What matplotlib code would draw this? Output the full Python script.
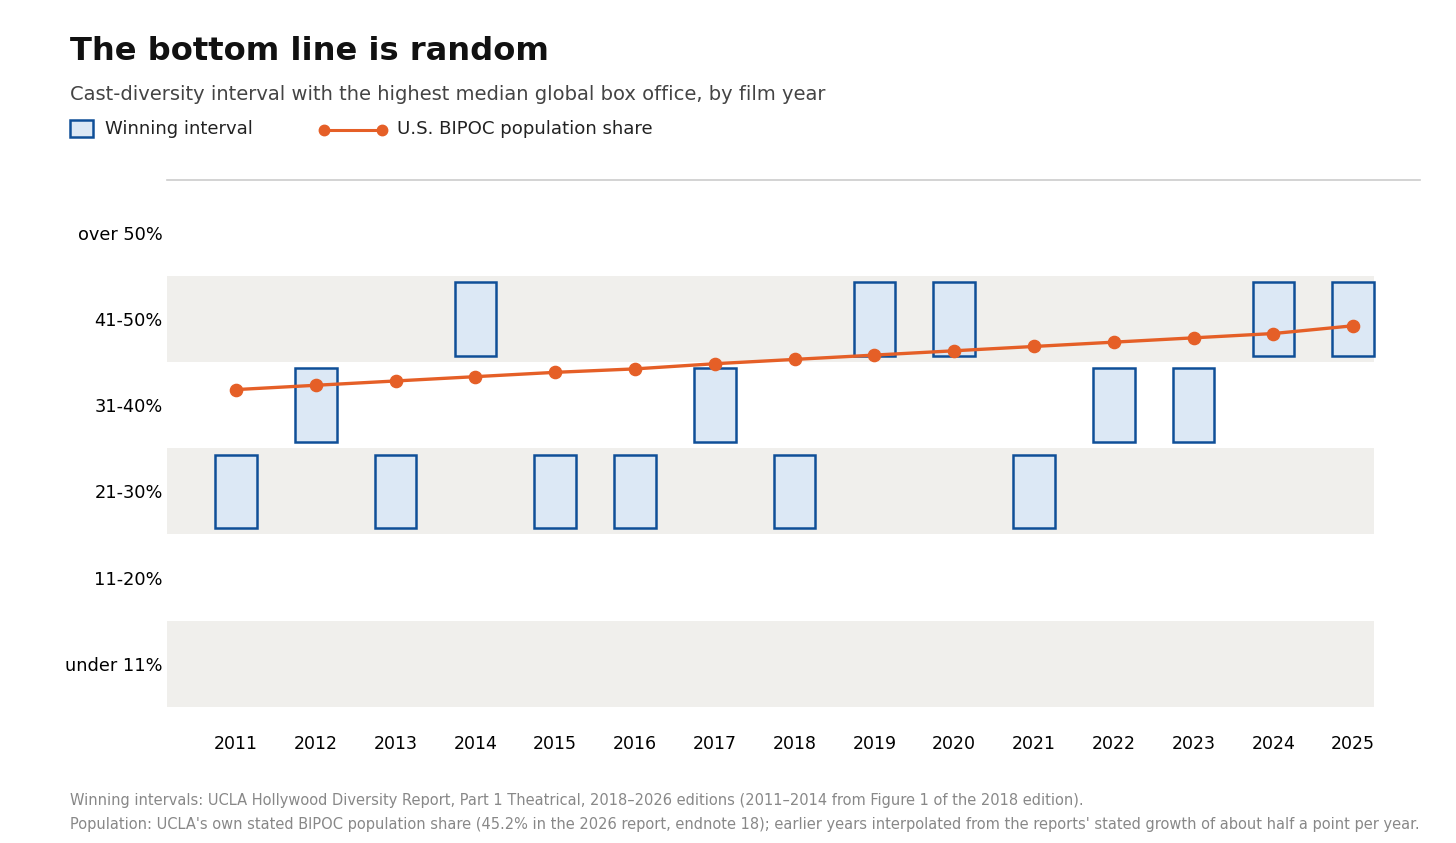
import matplotlib
matplotlib.use("Agg")
import matplotlib.pyplot as plt
from matplotlib.patches import Rectangle
from matplotlib.lines import Line2D

plt.rcParams["font.family"] = ["DejaVu Sans"]

# ---- data ----
years = [2011, 2012, 2013, 2014, 2015, 2016, 2017, 2018, 2019, 2020, 2021, 2022, 2023, 2024, 2025]
categories = ["under 11%", "11-20%", "21-30%", "31-40%", "41-50%", "over 50%"]
winning_interval = ["21-30%", "31-40%", "21-30%", "41-50%", "21-30%", "21-30%", "31-40%",
                    "21-30%", "41-50%", "41-50%", "21-30%", "31-40%", "31-40%", "41-50%", "41-50%"]
bipoc_share = [37.8, 38.3, 38.8, 39.3, 39.8, 40.2, 40.8, 41.3, 41.8, 42.3, 42.8, 43.3, 43.8, 44.3, 45.2]
shaded_categories = ["under 11%", "21-30%", "41-50%"]

# category k covers [10k+1, 10k+11) percent, centred on row k
def share_to_row(v):
    return (v - 6.0) / 10.0

BOX_FILL = "#dce8f5"
BOX_EDGE = "#0f4f98"
ORANGE = "#e55f27"
BAND = "#f0efec"

W, H = 1456, 843
fig = plt.figure(figsize=(W / 100, H / 100), dpi=100)
fig.patch.set_facecolor("white")

ax_l, ax_r, ax_t, ax_b = 167, 1420, 180, 707
ax = fig.add_axes([ax_l / W, 1 - ax_b / H, (ax_r - ax_l) / W, (ax_b - ax_t) / H])

px_per_year = 79.8
x0 = years[0] - (236 - ax_l) / px_per_year
x1 = years[0] + (ax_r - 236) / px_per_year
ax.set_xlim(x0, x1)
ax.set_ylim(-0.5, 5.61)

band_right = years[-1] + 0.26
for c in shaded_categories:
    k = categories.index(c)
    ax.add_patch(Rectangle((x0, k - 0.5), band_right - x0, 1.0, facecolor=BAND,
                           edgecolor="none", zorder=0))

bw, bh = 0.52, 0.85
for yr, cat in zip(years, winning_interval):
    k = categories.index(cat)
    ax.add_patch(Rectangle((yr - bw / 2, k - bh / 2), bw, bh, facecolor=BOX_FILL,
                           edgecolor=BOX_EDGE, linewidth=1.8, zorder=2))

ax.plot(years, [share_to_row(v) for v in bipoc_share], color=ORANGE, linewidth=2.4,
        marker="o", markersize=8.8, zorder=3)

for s in ["left", "right", "bottom"]:
    ax.spines[s].set_visible(False)
ax.spines["top"].set_color("#cccccc")
ax.spines["top"].set_linewidth(1.2)

ax.set_yticks(range(len(categories)))
ax.set_yticklabels(categories, fontsize=12.8)
ax.set_xticks(years)
ax.set_xticklabels([str(y) for y in years], fontsize=12.5)
ax.tick_params(length=0)
ax.tick_params(axis="x", pad=20)
ax.tick_params(axis="y", pad=3)

# ---- titles ----
fig.text(70 / W, 1 - 51 / H, "The bottom line is random", fontsize=23.1, fontweight="bold",
         color="#111111", va="center", ha="left")
fig.text(70 / W, 1 - 94 / H, "Cast-diversity interval with the highest median global box office, by film year",
         fontsize=14, color="#444444", va="center", ha="left")

# ---- legend ----
fig.patches.append(Rectangle((70 / W, 1 - 137 / H), 23 / W, 17 / H, transform=fig.transFigure,
                             facecolor=BOX_FILL, edgecolor=BOX_EDGE, linewidth=1.8))
fig.text(105 / W, 1 - 129 / H, "Winning interval", fontsize=13, color="#222222",
         va="center", ha="left")
fig.lines.append(Line2D([324 / W, 382 / W], [1 - 130 / H, 1 - 130 / H], transform=fig.transFigure,
                        color=ORANGE, linewidth=2.2, marker="o", markersize=7.5))
fig.text(397 / W, 1 - 129 / H, "U.S. BIPOC population share", fontsize=13.05, color="#222222",
         va="center", ha="left")

# ---- notes ----
fig.text(70 / W, 1 - 800 / H,
         "Winning intervals: UCLA Hollywood Diversity Report, Part 1 Theatrical, 2018\u20132026 editions (2011\u20132014 from Figure 1 of the 2018 edition).",
         fontsize=10.5, color="#888888", va="center", ha="left")
fig.text(70 / W, 1 - 824 / H,
         "Population: UCLA's own stated BIPOC population share (45.2% in the 2026 report, endnote 18); earlier years interpolated from the reports' stated growth of about half a point per year.",
         fontsize=10.5, color="#888888", va="center", ha="left")

fig.savefig("out.png", dpi=100, facecolor="white")
